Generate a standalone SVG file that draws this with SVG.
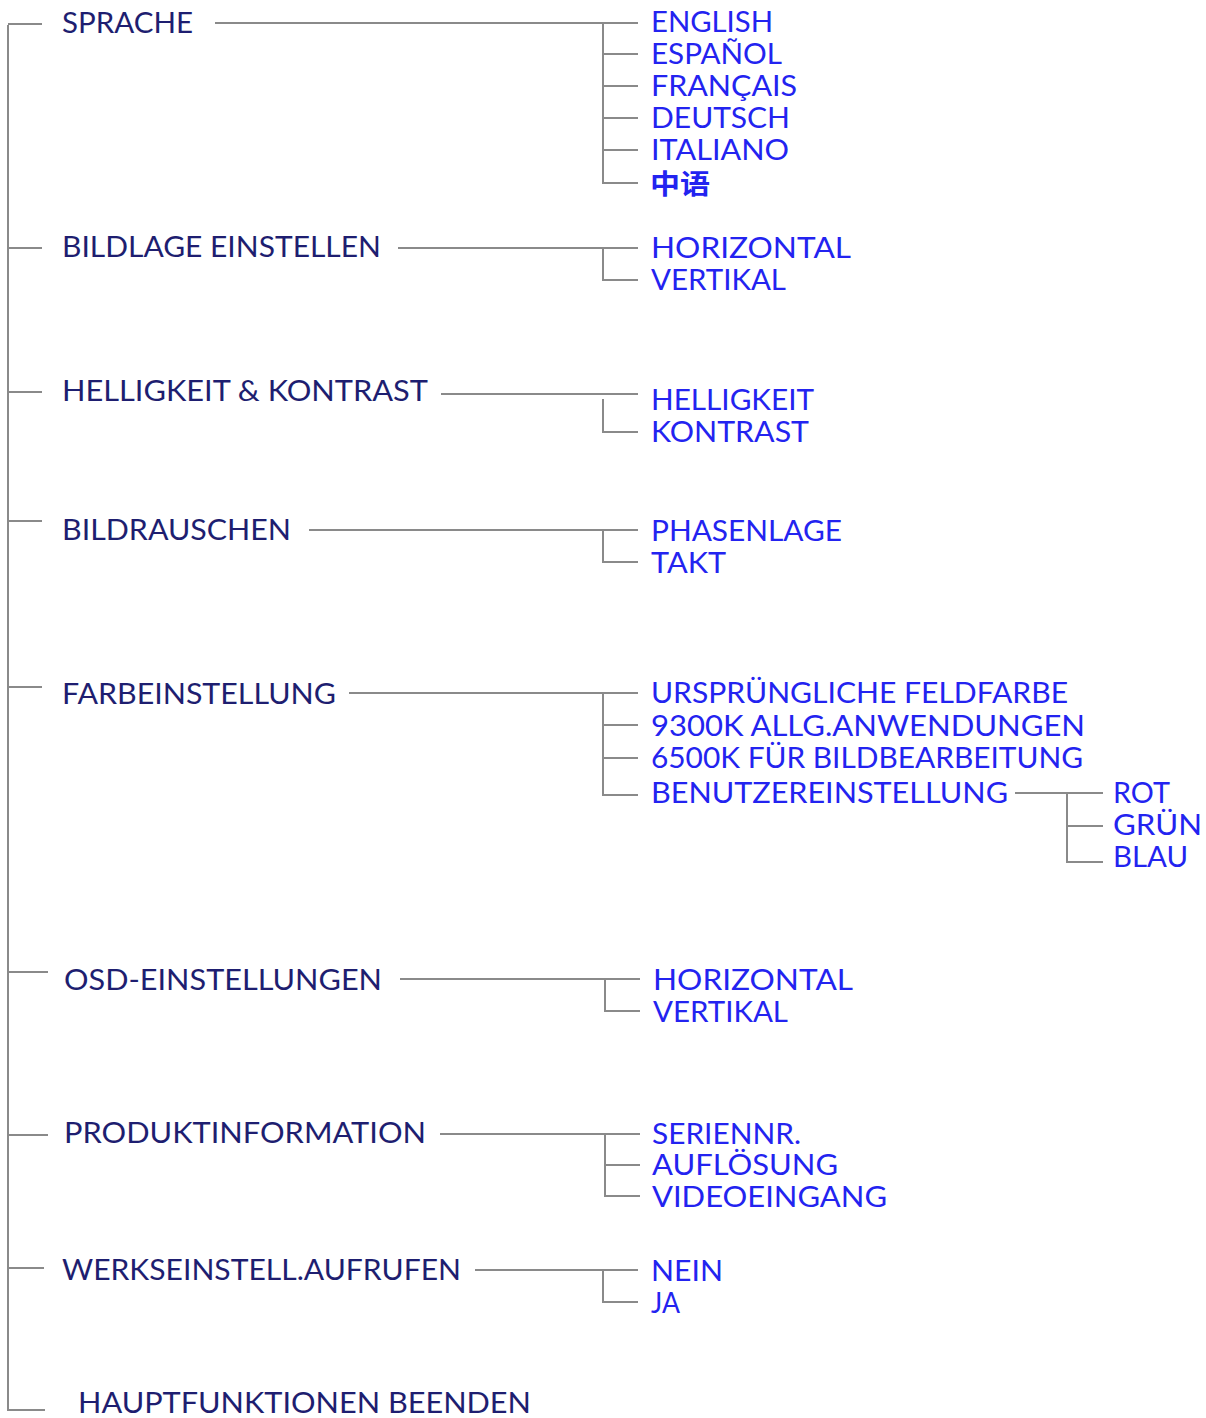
<svg xmlns="http://www.w3.org/2000/svg" width="1206" height="1418" viewBox="0 0 1206 1418">
<style>
.ln{stroke:#8a8a8a;stroke-width:2;fill:none}
.m{font-family:"Lato","Liberation Sans",sans-serif;font-size:29px;fill:#1e1e70}
.s{font-family:"Lato","Liberation Sans",sans-serif;font-size:28px;fill:#2323f0}
.cjk{font-family:"Noto Sans CJK SC",sans-serif;font-size:27px;font-weight:bold;fill:#2323f0}
</style>
<rect width="1206" height="1418" fill="#ffffff"/>
<g id="connectors">
<path class="ln" d="M8 25 V1410 H45"/>
<path class="ln" d="M8 24 H42 M8 248 H42 M8 392 H42 M8 521 H42 M8 687 H42 M8 972 H48 M8 1135 H48 M8 1268 H44"/>
<path class="ln" d="M215 23 H638 M603 23 V183 H638 M603 54 H638 M603 86 H638 M603 118 H638 M603 150 H638"/>
<path class="ln" d="M398 248 H638 M603 248 V280 H638"/>
<path class="ln" d="M441 394 H638 M603 399 V432 H638"/>
<path class="ln" d="M309 530 H638 M603 530 V562 H638"/>
<path class="ln" d="M349 693 H638 M603 693 V795 H638 M603 725 H638 M603 758 H638"/>
<path class="ln" d="M1015 793 H1103 M1067 793 V862 H1103 M1067 826 H1103"/>
<path class="ln" d="M400 979 H640 M605 979 V1011 H640"/>
<path class="ln" d="M440 1134 H640 M605 1134 V1196 H640 M605 1165 H640"/>
<path class="ln" d="M475 1270 H638 M603 1270 V1302 H638"/>
</g>
<g id="sprache">
<text class="m" x="62" y="33" textLength="131" lengthAdjust="spacingAndGlyphs">SPRACHE</text>
<text class="s" x="651" y="32" textLength="122" lengthAdjust="spacingAndGlyphs">ENGLISH</text>
<text class="s" x="651" y="64" textLength="131" lengthAdjust="spacingAndGlyphs">ESPAÑOL</text>
<text class="s" x="651" y="96" textLength="146" lengthAdjust="spacingAndGlyphs">FRANÇAIS</text>
<text class="s" x="651" y="128" textLength="139" lengthAdjust="spacingAndGlyphs">DEUTSCH</text>
<text class="s" x="651" y="160" textLength="138" lengthAdjust="spacingAndGlyphs">ITALIANO</text>
<text class="cjk" x="650" y="194" textLength="60" lengthAdjust="spacingAndGlyphs">中语</text>
</g>
<g id="bildlage">
<text class="m" x="62" y="257" textLength="319" lengthAdjust="spacingAndGlyphs">BILDLAGE EINSTELLEN</text>
<text class="s" x="651" y="258" textLength="200" lengthAdjust="spacingAndGlyphs">HORIZONTAL</text>
<text class="s" x="651" y="290" textLength="135" lengthAdjust="spacingAndGlyphs">VERTIKAL</text>
</g>
<g id="helligkeit">
<text class="m" x="62" y="401" textLength="366" lengthAdjust="spacingAndGlyphs">HELLIGKEIT &amp; KONTRAST</text>
<text class="s" x="651" y="410" textLength="163" lengthAdjust="spacingAndGlyphs">HELLIGKEIT</text>
<text class="s" x="651" y="442" textLength="158" lengthAdjust="spacingAndGlyphs">KONTRAST</text>
</g>
<g id="bildrauschen">
<text class="m" x="62" y="540" textLength="229" lengthAdjust="spacingAndGlyphs">BILDRAUSCHEN</text>
<text class="s" x="651" y="541" textLength="191" lengthAdjust="spacingAndGlyphs">PHASENLAGE</text>
<text class="s" x="651" y="573" textLength="75" lengthAdjust="spacingAndGlyphs">TAKT</text>
</g>
<g id="farbeinstellung">
<text class="m" x="62" y="704" textLength="274" lengthAdjust="spacingAndGlyphs">FARBEINSTELLUNG</text>
<text class="s" x="651" y="703" textLength="417" lengthAdjust="spacingAndGlyphs">URSPRÜNGLICHE FELDFARBE</text>
<text class="s" x="651" y="736" textLength="434" lengthAdjust="spacingAndGlyphs">9300K ALLG.ANWENDUNGEN</text>
<text class="s" x="651" y="768" textLength="432" lengthAdjust="spacingAndGlyphs">6500K FÜR BILDBEARBEITUNG</text>
<text class="s" x="651" y="803" textLength="357" lengthAdjust="spacingAndGlyphs">BENUTZEREINSTELLUNG</text>
<text class="s" x="1113" y="803" textLength="57" lengthAdjust="spacingAndGlyphs">ROT</text>
<text class="s" x="1113" y="835" textLength="89" lengthAdjust="spacingAndGlyphs">GRÜN</text>
<text class="s" x="1113" y="867" textLength="75" lengthAdjust="spacingAndGlyphs">BLAU</text>
</g>
<g id="osd">
<text class="m" x="64" y="990" textLength="318" lengthAdjust="spacingAndGlyphs">OSD-EINSTELLUNGEN</text>
<text class="s" x="653" y="990" textLength="200" lengthAdjust="spacingAndGlyphs">HORIZONTAL</text>
<text class="s" x="653" y="1022" textLength="135" lengthAdjust="spacingAndGlyphs">VERTIKAL</text>
</g>
<g id="produktinformation">
<text class="m" x="64" y="1143" textLength="362" lengthAdjust="spacingAndGlyphs">PRODUKTINFORMATION</text>
<text class="s" x="652" y="1144" textLength="149" lengthAdjust="spacingAndGlyphs">SERIENNR.</text>
<text class="s" x="652" y="1175" textLength="186" lengthAdjust="spacingAndGlyphs">AUFLÖSUNG</text>
<text class="s" x="652" y="1207" textLength="235" lengthAdjust="spacingAndGlyphs">VIDEOEINGANG</text>
</g>
<g id="werkseinstellung">
<text class="m" x="62" y="1280" textLength="399" lengthAdjust="spacingAndGlyphs">WERKSEINSTELL.AUFRUFEN</text>
<text class="s" x="651" y="1281" textLength="72" lengthAdjust="spacingAndGlyphs">NEIN</text>
<text class="s" x="651" y="1313" textLength="29" lengthAdjust="spacingAndGlyphs">JA</text>
</g>
<g id="hauptfunktionen">
<text class="m" x="78" y="1413" textLength="453" lengthAdjust="spacingAndGlyphs">HAUPTFUNKTIONEN BEENDEN</text>
</g>
</svg>
